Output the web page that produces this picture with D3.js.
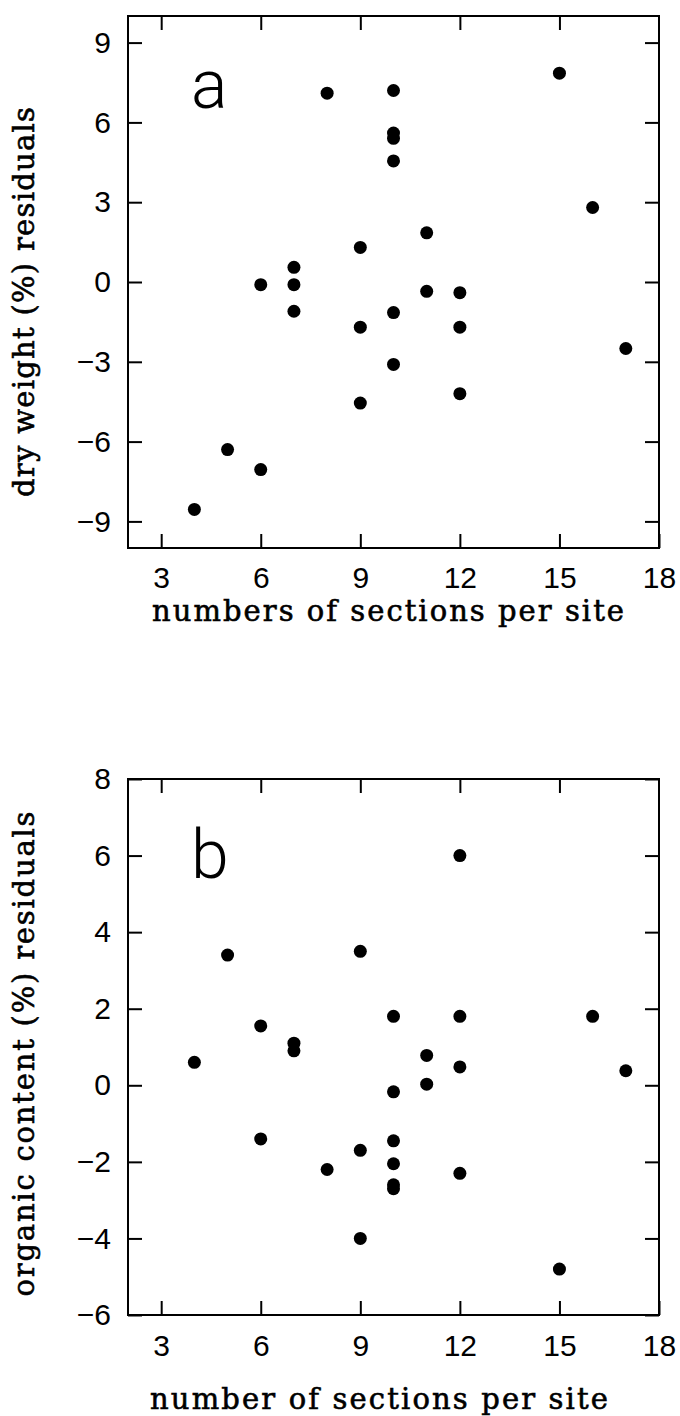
<!DOCTYPE html>
<html>
<head>
<meta charset="utf-8">
<script src="https://cdn.jsdelivr.net/npm/d3@7"></script>
<style>
    body { margin: 0; background: #fff; }
    .tick text { font-family: "Liberation Sans", Arial, sans-serif; font-size: 30px; fill: #000; }
    .tick line { stroke: #000; stroke-width: 2px; }
    .axis-title { font-family: "DejaVu Serif", serif; font-size: 29px; fill: #000; stroke: #000; stroke-width: 0.6px; }
    .panel-letter { font-family: Roboto, "Liberation Sans", sans-serif; font-weight: 300; font-size: 68px; fill: #000; }
</style>
</head>
<body>
<svg id="chart" width="680" height="1416"></svg>
<script>
// tick values shared by both panels
var xTicks = [3, 6, 9, 12, 15, 18];
var yTicksA = [-9, -6, -3, 0, 3, 6, 9];
var yTicksB = [-6, -4, -2, 0, 2, 4, 6, 8];

// panel a: dry weight residuals
var sectionsA = [4, 5, 6, 6, 7, 7, 7, 8, 9, 9, 9, 10, 10, 10, 10, 10, 10, 11, 11, 12, 12, 12, 15, 16, 17];
var dryWeightResid = [-8.55, -6.3, -0.1, -7.05, 0.55, -0.1, -1.1, 7.1, 1.3, -1.7, -4.55, 7.2, 5.6, 5.4, 4.55, -1.15, -3.1, 1.85, -0.35, -0.4, -1.7, -4.2, 7.85, 2.8, -2.5];

// panel b: organic content residuals
var sectionsB = [4, 5, 6, 6, 7, 7, 8, 9, 9, 9, 10, 10, 10, 10, 10, 10, 11, 11, 12, 12, 12, 12, 15, 16, 17];
var organicResid = [0.6, 3.4, 1.55, -1.4, 1.1, 0.9, -2.2, 3.5, -1.7, -4, 1.8, -0.17, -1.45, -2.05, -2.6, -2.7, 0.78, 0.03, 6, 1.8, 0.48, -2.3, -4.8, 1.8, 0.38];

var panels = [
    {letter: 'a', xs: sectionsA, ys: dryWeightResid, yDomain: [-10, 10], yTicks: yTicksA,
     top: 16, bottom: 548, yTitle: 'dry weight (%) residuals', yTitleY: 302, yTitleLen: 390,
     xTitle: 'numbers of sections per site', xTitleX: 388, xTitleY: 621, xTitleLen: 472,
     xPad: 19, letterY: 108},
    {letter: 'b', xs: sectionsB, ys: organicResid, yDomain: [-6, 8], yTicks: yTicksB,
     top: 779, bottom: 1315, yTitle: 'organic content (%) residuals', yTitleY: 1054, yTitleLen: 485,
     xTitle: 'number of sections per site', xTitleX: 379, xTitleY: 1409, xTitleLen: 458,
     xPad: 20, letterY: 878}
];

var left = 128, right = 659, tickLen = 14;
var svg = d3.select('#chart');

function drawPanel(p){
    var x = d3.scaleLinear().domain([2, 18]).range([left, right]);
    var y = d3.scaleLinear().domain(p.yDomain).range([p.bottom, p.top]);
    var g = svg.append('g');

    // inward ticks on all four sides
    g.append('g').attr('transform', 'translate(0,' + p.bottom + ')')
        .call(d3.axisBottom(x).tickValues(xTicks).tickSize(-tickLen).tickPadding(p.xPad).tickFormat(d3.format('d')));
    g.append('g').attr('transform', 'translate(0,' + p.top + ')')
        .call(d3.axisTop(x).tickValues(xTicks.slice(0, -1)).tickSize(-tickLen).tickFormat(''));
    g.append('g').attr('transform', 'translate(' + left + ',0)')
        .call(d3.axisLeft(y).tickValues(p.yTicks).tickSize(-tickLen).tickPadding(17).tickFormat(d3.format('d')));
    g.append('g').attr('transform', 'translate(' + right + ',0)')
        .call(d3.axisRight(y).tickValues(p.yTicks).tickSize(-tickLen).tickFormat(''));
    g.selectAll('.domain').remove();
    g.selectAll('.tick text').attr('font-family', null).attr('font-size', null);

    g.append('rect')
        .attr('x', left).attr('y', p.top)
        .attr('width', right - left).attr('height', p.bottom - p.top)
        .attr('fill', 'none').attr('stroke', '#000').attr('stroke-width', 2);

    g.selectAll('circle.dot').data(p.xs).enter().append('circle')
        .attr('class', 'dot')
        .attr('cx', function(d){ return x(d); })
        .attr('cy', function(d, i){ return y(p.ys[i]); })
        .attr('r', 6.5)
        .attr('fill', '#000');

    g.append('text').attr('class', 'panel-letter')
        .attr('x', 191).attr('y', p.letterY)
        .text(p.letter);

    // wide typewriter-like spacing, as in the original
    g.append('text').attr('class', 'axis-title')
        .attr('text-anchor', 'middle')
        .attr('x', p.xTitleX).attr('y', p.xTitleY)
        .attr('textLength', p.xTitleLen).attr('lengthAdjust', 'spacing')
        .text(p.xTitle);

    g.append('text').attr('class', 'axis-title')
        .attr('text-anchor', 'middle')
        .attr('transform', 'translate(34,' + p.yTitleY + ') rotate(-90)')
        .attr('textLength', p.yTitleLen).attr('lengthAdjust', 'spacing')
        .text(p.yTitle);
}

panels.forEach(drawPanel);
</script>
</body>
</html>
